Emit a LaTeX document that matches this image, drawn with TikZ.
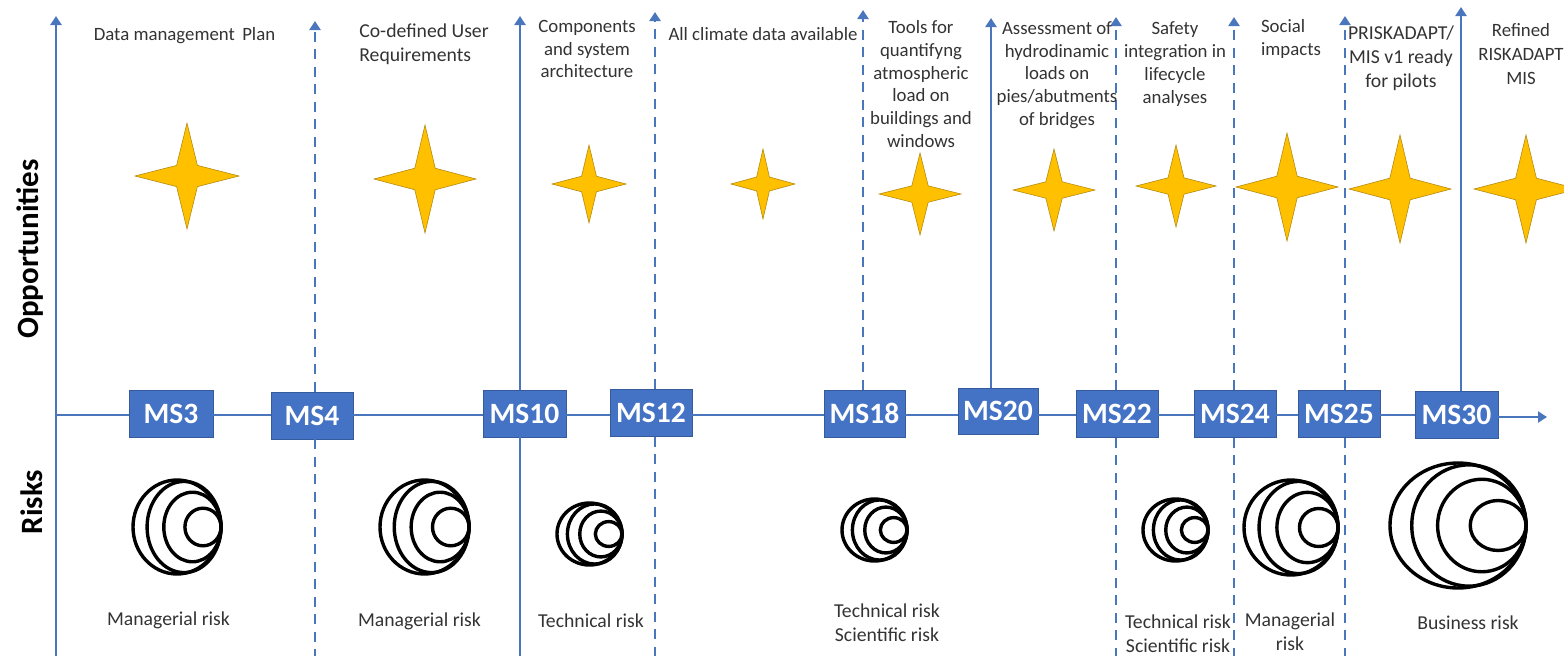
\documentclass[tikz,border=0pt]{standalone}
\usepackage{fontspec}
\setmainfont{Carlito}
\usetikzlibrary{arrows.meta}
\definecolor{axisblue}{HTML}{4A76BD}
\definecolor{boxblue}{HTML}{4472C4}
\definecolor{stargold}{HTML}{FFC000}
\definecolor{starline}{HTML}{B58A10}
\definecolor{txt}{HTML}{333333}
\tikzset{
 msbox/.style={fill=boxblue,draw=boxblue!80!black,line width=.6pt,text=white,minimum width=#1,minimum height=47,inner sep=0pt,font=\fontsize{29.5}{29.5}\selectfont\bfseries},
 axisseg/.style={draw=axisblue,line width=2.4pt},
 solidline/.style={draw=axisblue,line width=2.4pt,-{Triangle[length=9,width=11]}},
 dashline/.style={draw=axisblue,line width=2.4pt,dash pattern=on 10 off 7.5,-{Triangle[length=9,width=11]}},
 dashplain/.style={draw=axisblue,line width=2.4pt,dash pattern=on 10 off 7.5},
 note/.style={text=txt,align=center,font=\fontsize{18.8}{22.8}\selectfont,inner sep=0pt},
 widenote/.style={text=txt,align=center,font=\fontsize{19.7}{24}\selectfont,inner sep=0pt},
 side/.style={rotate=90,font=\fontsize{31}{31}\selectfont\bfseries,text=black,inner sep=0pt},
 riskring/.style={draw=black,line width=3.4pt},
 starshape/.style={fill=stargold,draw=starline,line width=.6pt}
}
\newcommand{\fourstar}[4]{%
 \path[starshape] (#1,#2-#4) -- (#1+.2*#3,#2-.2*#4) -- (#1+#3,#2) -- (#1+.2*#3,#2+.2*#4)
  -- (#1,#2+#4) -- (#1-.2*#3,#2+.2*#4) -- (#1-#3,#2) -- (#1-.2*#3,#2-.2*#4) -- cycle;}
% left right top bottom
\newcommand{\riskicon}[4]{%
 \pgfmathsetmacro{\wa}{(#2-#1)/2}\pgfmathsetmacro{\ha}{(#4-#3)/2}\pgfmathsetmacro{\my}{(#3+#4)/2}
 \foreach \fw/\fh in {1/1,.84/.97,.65/.74,.41/.40}{
  \draw[riskring] (#2-\wa*\fw,\my) ellipse[x radius=\wa*\fw,y radius=\ha*\fh];}}
\begin{document}
\begin{tikzpicture}[x=1pt,y=-1pt]
\useasboundingbox (0,0) rectangle (1564,659);
% milestones
\node[msbox=84] (ms3) at (171,414) {MS3};
\node[msbox=82] (ms4) at (312,415.5) {MS4};
\node[msbox=83] (ms10) at (524.5,413.5) {MS10};
\node[msbox=82] (ms12) at (651,413) {MS12};
\node[msbox=81] (ms18) at (864.5,413.5) {MS18};
\node[msbox=80,minimum height=46] (ms20) at (998,411) {MS20};
\node[msbox=82] (ms22) at (1117,414) {MS22};
\node[msbox=82] (ms24) at (1235,414) {MS24};
\node[msbox=82] (ms25) at (1339,414) {MS25};
\node[msbox=83] (ms30) at (1456.5,415) {MS30};
% frame coordinates
\coordinate (origin) at (56,415);
\coordinate (axisend) at (1547,417);
\coordinate (ltop) at (56,16);
\coordinate (lbot) at (56,656);
% horizontal axis
\draw[axisseg] (origin) -- (ms3.west |- origin);
\draw[axisseg] (ms3.east |- origin) -- (ms4.west |- origin);
\draw[axisseg] (ms4.east |- origin) -- (ms10.west |- origin);
\draw[axisseg] (ms10.east |- origin) -- (ms12.west |- origin);
\draw[axisseg] (ms12.east |- origin) -- (ms18.west |- origin);
\draw[axisseg] (ms18.east |- origin) -- (ms20.west |- origin);
\draw[axisseg] (ms20.east |- origin) -- (ms22.west |- origin);
\draw[axisseg] (ms22.east |- origin) -- (ms24.west |- origin);
\draw[axisseg] (ms24.east |- origin) -- (ms25.west |- origin);
\draw[axisseg] (ms25.east |- origin) -- (ms30.west |- origin);
\draw[solidline] (ms30.east |- axisend) -- (axisend);
% verticals
\draw[solidline] (lbot) -- (ltop);
\coordinate (t4) at (315,21); \coordinate (b4) at (315,656);
\draw[dashline] (ms4.north -| t4) -- (t4);
\draw[dashplain] (ms4.south -| b4) -- (b4);
\coordinate (t10) at (520,16); \coordinate (b10) at (520,656);
\draw[solidline] (ms10.north -| t10) -- (t10);
\draw[axisseg] (ms10.south -| b10) -- (b10);
\coordinate (t12) at (655,12); \coordinate (b12) at (655,656);
\draw[dashline] (ms12.north -| t12) -- (t12);
\draw[dashplain] (ms12.south -| b12) -- (b12);
\coordinate (t18) at (863,10);
\draw[dashline] (ms18.north -| t18) -- (t18);
\coordinate (t20) at (991,18);
\draw[solidline] (ms20.north -| t20) -- (t20);
\coordinate (t22) at (1116,17); \coordinate (b22) at (1116,656);
\draw[dashline] (ms22.north -| t22) -- (t22);
\draw[dashplain] (ms22.south -| b22) -- (b22);
\coordinate (t24) at (1234,17); \coordinate (b24) at (1234,656);
\draw[dashline] (ms24.north -| t24) -- (t24);
\draw[dashplain] (ms24.south -| b24) -- (b24);
\coordinate (t25) at (1345,16); \coordinate (b25) at (1345,656);
\draw[dashline] (ms25.north -| t25) -- (t25);
\draw[dashplain] (ms25.south -| b25) -- (b25);
\coordinate (t30) at (1461,7);
\draw[solidline] (ms30.north -| t30) -- (t30);
% side labels
\node[side] (opp) at (30,249) {Opportunities};
\node[side] (rsk) at (32,502) {Risks};
% stars
\fourstar{187}{176}{52}{53}
\fourstar{425}{179}{51}{54}
\fourstar{589}{184}{37}{39}
\fourstar{763}{184}{32}{35}
\fourstar{920}{194}{41}{41}
\fourstar{1054}{190}{41}{41}
\fourstar{1176}{186}{40}{41}
\fourstar{1287}{187}{51}{54}
\fourstar{1400}{189}{51}{54}
\fourstar{1526}{189}{52}{54}
% risk icons
\riskicon{133}{221}{480}{574}
\riskicon{380}{469}{480}{574}
\riskicon{557}{622}{503}{565}
\riskicon{842}{907}{499}{561}
\riskicon{1143}{1208}{499}{561}
\riskicon{1244}{1338}{480}{575}
\riskicon{1390}{1526}{463}{588}
% top texts
\node[note] (n1) at (184.5,36) {Data management\, Plan};
\node[widenote,align=left] (n2) at (424,44) {Co-defined User\\Requirements};
\node[note] (n3) at (587,49) {Components\\and system\\architecture};
\node[note] (n4) at (763,34) {All climate data available};
\node[note] (n5) at (921,84) {Tools for\\quantifyng\\atmospheric\\load on\\buildings and\\windows};
\node[note] (n6) at (1057,75) {Assessment of\\hydrodinamic\\loads on\\pies/abutments\\of bridges};
\node[note] (n7) at (1175,64) {Safety\\integration in\\lifecycle\\analyses};
\node[note,align=left] (n8) at (1291,39) {Social\\impacts};
\node[widenote] (n9) at (1401,58) {PRISKADAPT/\\MIS v1 ready\\for pilots};
\node[widenote,font=\fontsize{18.8}{24}\selectfont] (n10) at (1521,54) {Refined\\RISKADAPT\\MIS};
% bottom texts
\node[widenote] (r1) at (168.5,620) {Managerial risk};
\node[widenote] (r2) at (419.5,621) {Managerial risk};
\node[widenote] (r3) at (591,621) {Technical risk};
\node[widenote] (r4) at (887,623) {Technical risk\\Scientific risk};
\node[widenote] (r5) at (1178,634) {Technical risk\\Scientific risk};
\node[widenote] (r6) at (1290,632) {Managerial\\risk};
\node[widenote] (r7) at (1468,623) {Business risk};
\end{tikzpicture}
\end{document}
